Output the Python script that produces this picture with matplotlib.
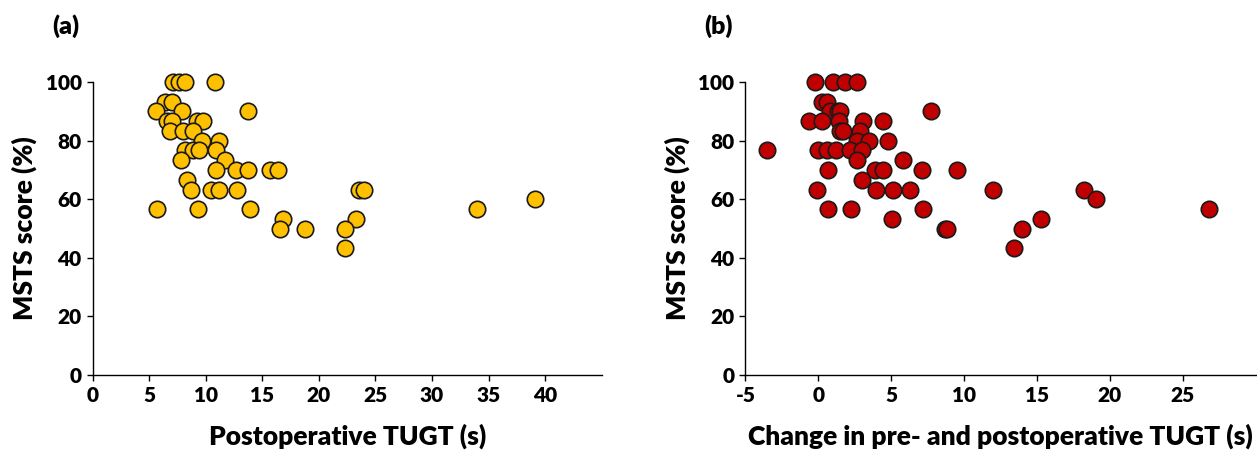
import matplotlib.pyplot as plt

plt.rcParams['font.family'] = ['Lato', 'DejaVu Sans']
plt.rcParams['font.weight'] = 'bold'
plt.rcParams['axes.unicode_minus'] = False

# panel (a): postoperative TUGT vs MSTS
tugt_post = [7.07, 7.65, 8.15, 10.8,
             6.4, 7.0,
             5.6, 7.86, 13.7,
             6.54, 6.98, 9.19, 9.72,
             6.83, 8.0, 8.9,
             9.63, 11.16,
             8.15, 8.89, 9.42, 10.9,
             7.8, 11.69,
             10.9, 12.66, 13.7, 15.66, 16.4,
             8.36,
             8.66, 10.42, 11.18, 12.72, 23.55, 23.97,
             39.07,
             5.7, 9.33, 13.9, 34.0,
             16.84, 23.3,
             16.6, 18.8, 22.3,
             22.3]
msts_a = [100] * 4 + [93.3] * 2 + [90] * 3 + [86.7] * 4 + [83.3] * 3 + [80] * 2 \
    + [76.7] * 4 + [73.3] * 2 + [70] * 5 + [66.7] + [63.3] * 6 + [60] \
    + [56.7] * 4 + [53.3] * 2 + [50] * 3 + [43.3]

# panel (b): change in pre- and postoperative TUGT vs MSTS
tugt_change = [-0.23, 1.03, 1.83, 2.63,
               0.23, 0.57,
               0.8, 1.37, 1.49, 7.7,
               -0.62, 0.23, 1.44, 3.04, 4.46,
               1.49, 1.71, 2.86,
               2.63, 3.5, 4.8,
               -3.5, 0.0, 0.57, 1.21, 2.17, 2.97,
               2.68, 5.83,
               0.69, 3.89, 4.41, 7.1, 9.5,
               3.02,
               -0.07, 3.96, 5.1, 6.3, 12.0, 18.2,
               19.07,
               0.69, 2.22, 7.2, 26.8,
               5.03, 15.25,
               8.7, 8.85, 13.97,
               13.4]
msts_b = [100] * 4 + [93.3] * 2 + [90] * 4 + [86.7] * 5 + [83.3] * 3 + [80] * 3 \
    + [76.7] * 6 + [73.3] * 2 + [70] * 5 + [66.7] + [63.3] * 6 + [60] \
    + [56.7] * 4 + [53.3] * 2 + [50] * 3 + [43.3]

fig = plt.figure(figsize=(12.57, 4.5), dpi=100)
ax1 = fig.add_axes([0.0737, 0.1667, 0.405, 0.651])
ax2 = fig.add_axes([0.593, 0.1667, 0.406, 0.651])


def style(ax, xlim, xticks, xlabel, tag):
    ax.set_xlim(*xlim)
    ax.set_ylim(0, 100)
    ax.set_xticks(xticks)
    ax.set_yticks([0, 20, 40, 60, 80, 100])
    for s in ['top', 'right']:
        ax.spines[s].set_visible(False)
    for s in ['left', 'bottom']:
        ax.spines[s].set_linewidth(1.0)
    ax.tick_params(direction='out', length=4, width=1.0, labelsize=15, pad=4)
    for lab in ax.get_xticklabels() + ax.get_yticklabels():
        lab.set_fontweight('heavy')
    ax.set_xlabel(xlabel, fontsize=19, fontweight='heavy', labelpad=13)
    ax.set_ylabel('MSTS score (%)', fontsize=19, fontweight='heavy', labelpad=6)
    ax.text(-0.08, 1.19, tag, transform=ax.transAxes, fontsize=18,
            fontweight='heavy', ha='left', va='center')


ax1.scatter(tugt_post, msts_a, s=140, color='#FFC000', edgecolors='#1a1a1a',
            linewidths=1.2, clip_on=False, zorder=3)
ax2.scatter(tugt_change, msts_b, s=140, color='#C00000', edgecolors='#1a1a1a',
            linewidths=1.2, clip_on=False, zorder=3)

style(ax1, (0, 45), range(0, 41, 5), 'Postoperative TUGT (s)', '(a)')
style(ax2, (-5, 30), range(-5, 26, 5), 'Change in pre- and postoperative TUGT (s)', '(b)')

fig.savefig('out.png', dpi=100)
